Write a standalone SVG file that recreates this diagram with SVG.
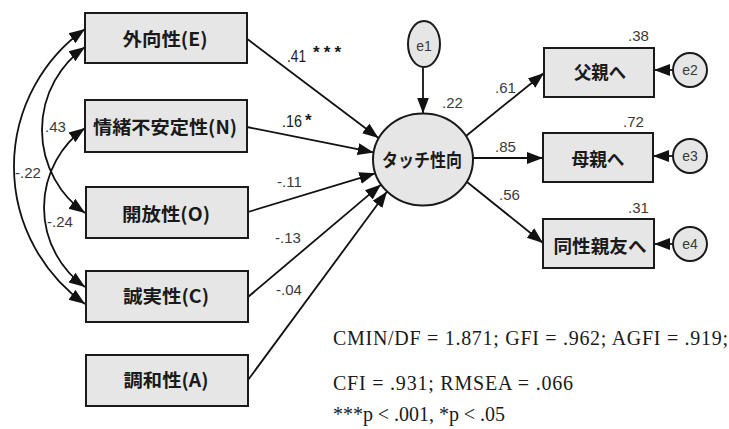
<svg xmlns="http://www.w3.org/2000/svg" width="729" height="429" viewBox="0 0 729 429">
<style>
.box{fill:#e6e6e6;stroke:#1a1a1a;stroke-width:2}
.lat{fill:#e6e6e6;stroke:#1a1a1a;stroke-width:2}
.lbl{font-family:"Noto Sans CJK JP","Noto Sans CJK SC",sans-serif;font-weight:bold;font-size:18.5px;fill:#1a1a1a;text-anchor:middle}
.num{font-family:"Liberation Sans",Arial,sans-serif;font-size:15px;fill:#3a3a3a}
.big{font-family:"Liberation Sans",Arial,sans-serif;font-size:17px;fill:#1a1a1a}
.err{font-family:"Liberation Sans",Arial,sans-serif;font-size:14px;fill:#3a3a3a;text-anchor:middle}
.stat{font-family:"Liberation Serif","Times New Roman",serif;font-size:20px;fill:#1a1a1a}
.c{fill:none;stroke:#111;stroke-width:1.8}
.a{marker-end:url(#ah)}
.b{marker-start:url(#ahs);marker-end:url(#ah)}
</style>
<defs>
<marker id="ah" markerUnits="userSpaceOnUse" markerWidth="18" markerHeight="14" refX="16" refY="7" orient="auto">
<path d="M0,1 L16,7 L0,13 z" fill="#111"/>
</marker>
<marker id="ahs" markerUnits="userSpaceOnUse" markerWidth="18" markerHeight="14" refX="16" refY="7" orient="auto-start-reverse">
<path d="M0,1 L16,7 L0,13 z" fill="#111"/>
</marker>
</defs>
<rect width="729" height="429" fill="#fff"/>

<g id="connectors">
<path class="c b" d="M85,29 A168.6,168.6 0 0 0 85,304"/>
<path class="c b" d="M85,47 A101.6,101.6 0 0 0 85,213"/>
<path class="c b" d="M85,128 A97.6,97.6 0 0 0 85,287"/>
<path class="c a" d="M246,38 L378.5,138"/>
<path class="c a" d="M247,127 L373.7,152.4"/>
<path class="c a" d="M248,212 L375.3,173.3"/>
<path class="c a" d="M248,297 L381,184.6"/>
<path class="c a" d="M248,380 L387,191.5"/>
<path class="c a" d="M423,67.5 L423,113.5"/>
<path class="c a" d="M466,136 L544,73"/>
<path class="c a" d="M473,158 L543,158"/>
<path class="c a" d="M467,182 L543,243"/>
<path class="c a" d="M673,70 L654,70"/>
<path class="c a" d="M673,156 L653,156"/>
<path class="c a" d="M673,244 L654,244"/>
</g>

<g id="E"><rect class="box" x="85" y="13" width="162" height="50"/><text class="lbl" x="165" y="46" textLength="85" lengthAdjust="spacingAndGlyphs">外向性(E)</text></g>
<g id="N"><rect class="box" x="85" y="100" width="162" height="52"/><text class="lbl" x="165" y="134" textLength="144" lengthAdjust="spacingAndGlyphs">情緒不安定性(N)</text></g>
<g id="O"><rect class="box" x="86" y="187" width="162" height="51"/><text class="lbl" x="166" y="220.5" textLength="88" lengthAdjust="spacingAndGlyphs">開放性(O)</text></g>
<g id="C"><rect class="box" x="86" y="271" width="162" height="51"/><text class="lbl" x="166" y="303" textLength="86" lengthAdjust="spacingAndGlyphs">誠実性(C)</text></g>
<g id="A"><rect class="box" x="86" y="355" width="162" height="51"/><text class="lbl" x="166" y="387" textLength="85" lengthAdjust="spacingAndGlyphs">調和性(A)</text></g>

<g id="touch"><ellipse class="lat" cx="423" cy="159.5" rx="50" ry="46"/><text class="lbl" x="422" y="166.5" font-size="18" textLength="80" lengthAdjust="spacingAndGlyphs">タッチ性向</text></g>
<g id="e1"><ellipse class="lat" cx="424" cy="44" rx="16" ry="23"/><text class="err" x="424" y="51">e1</text></g>

<g id="father"><rect class="box" x="544" y="48" width="110" height="49"/><text class="lbl" x="600" y="79" textLength="52" lengthAdjust="spacingAndGlyphs">父親へ</text></g>
<g id="mother"><rect class="box" x="543" y="133" width="110" height="49"/><text class="lbl" x="598" y="165.5" textLength="53" lengthAdjust="spacingAndGlyphs">母親へ</text></g>
<g id="friend"><rect class="box" x="543" y="219" width="111" height="49"/><text class="lbl" x="600" y="252.5" textLength="93" lengthAdjust="spacingAndGlyphs">同性親友へ</text></g>

<g id="e2"><circle class="lat" cx="690" cy="70" r="17"/><text class="err" x="690" y="75">e2</text></g>
<g id="e3"><circle class="lat" cx="690" cy="156" r="17"/><text class="err" x="690" y="161">e3</text></g>
<g id="e4"><circle class="lat" cx="690" cy="244" r="17"/><text class="err" x="690" y="249">e4</text></g>

<g id="labels">
<text class="big" x="287" y="62" textLength="19" lengthAdjust="spacingAndGlyphs">.41</text>
<text class="big" x="313" y="58" font-size="19" font-weight="bold" textLength="28" lengthAdjust="spacing">***</text>
<text class="big" x="282" y="127" textLength="20" lengthAdjust="spacingAndGlyphs">.16</text>
<text class="big" x="305" y="126" font-weight="bold">*</text>
<text class="num" x="277" y="187">-.11</text>
<text class="num" x="275" y="243">-.13</text>
<text class="num" x="276" y="295">-.04</text>
<text class="num" x="442" y="108" font-size="16">.22</text>
<text class="num" x="495" y="93">.61</text>
<text class="num" x="495" y="152">.85</text>
<text class="num" x="499" y="200">.56</text>
<text class="num" x="628" y="41">.38</text>
<text class="num" x="623" y="127">.72</text>
<text class="num" x="628" y="213">.31</text>
<text class="num" x="45" y="132">.43</text>
<text class="num" x="15" y="178">-.22</text>
<text class="num" x="47" y="227">-.24</text>
</g>

<g id="stats">
<text class="stat" x="333" y="345" textLength="395" lengthAdjust="spacing">CMIN/DF = 1.871; GFI = .962; AGFI = .919;</text>
<text class="stat" x="333" y="390" textLength="240" lengthAdjust="spacing">CFI = .931; RMSEA = .066</text>
<text class="stat" x="333" y="421" textLength="172" lengthAdjust="spacing">***p &lt; .001, *p &lt; .05</text>
</g>
</svg>
